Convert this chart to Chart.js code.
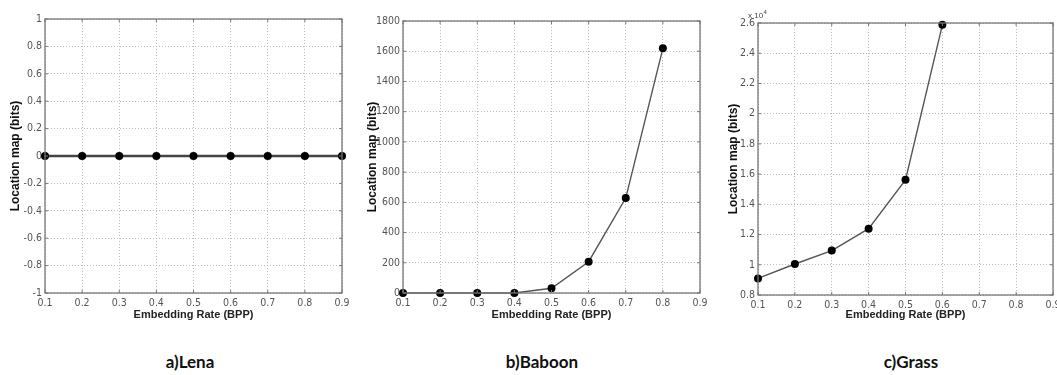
<!DOCTYPE html>
<html>
<head>
<meta charset="utf-8">
<script src="https://cdn.jsdelivr.net/npm/chart.js@4/dist/chart.umd.min.js"></script>
<style>
  html, body { margin: 0; padding: 0; background: #fff; }
  body { width: 1057px; height: 375px; position: relative; overflow: hidden; }
  .panel { position: absolute; top: 0; }
  .cap { position: absolute; top: 351px; font-family: Lato, "Open Sans", sans-serif; font-weight: bold; font-size: 17px; color: #111; transform: translateX(-50%); white-space: nowrap; }
</style>
</head>
<body>
<div class="panel" style="left:0px;width:350px;height:330px"><canvas id="c1"></canvas></div>
<div class="panel" style="left:360px;width:350px;height:330px"><canvas id="c2"></canvas></div>
<div class="panel" style="left:710px;width:347px;height:330px"><canvas id="c3"></canvas></div>
<div class="cap" style="left:190px">a)Lena</div>
<div class="cap" style="left:542px">b)Baboon</div>
<div class="cap" style="left:911px">c)Grass</div>
<script>
// ---- data ----
const rates = ['0.1','0.2','0.3','0.4','0.5','0.6','0.7','0.8','0.9'];
const lenaBits = [0, 0, 0, 0, 0, 0, 0, 0, 0];
const baboonBits = [0, 0, 0, 0, 31, 207, 628, 1619];
const grassBits = [9100, 10050, 10940, 12390, 15620, 25880];
const lenaTicks = { min: -1, max: 1, step: 0.2 };
const baboonTicks = { min: 0, max: 1800, step: 200 };
const grassTicks = { min: 8000, max: 26000, step: 2000, scale: 10000 };
const xTitle = 'Embedding Rate (BPP)';
const yTitle = 'Location map (bits)';

const tickFont = { family: '"Liberation Sans Narrow", "DejaVu Sans Condensed", Arial, sans-serif', size: 10.5 };
const tickColor = '#555';

const boxPlugin = {
  id: 'box',
  afterDatasetsDraw(chart) {
    const a = chart.chartArea, ctx = chart.ctx;
    ctx.save();
    ctx.strokeStyle = '#777';
    ctx.lineWidth = 1.3;
    ctx.setLineDash([]);
    ctx.strokeRect(a.left, a.top, a.right - a.left, a.bottom - a.top);
    // inward tick marks
    ctx.lineWidth = 1;
    const xs = chart.scales.x, ys = chart.scales.y;
    xs.ticks.forEach((t, i) => {
      const px = xs.getPixelForTick(i);
      ctx.beginPath(); ctx.moveTo(px, a.bottom); ctx.lineTo(px, a.bottom - 3);
      ctx.moveTo(px, a.top); ctx.lineTo(px, a.top + 3); ctx.stroke();
    });
    ys.ticks.forEach((t, i) => {
      const py = ys.getPixelForTick(i);
      ctx.beginPath(); ctx.moveTo(a.left, py); ctx.lineTo(a.left + 3, py);
      ctx.moveTo(a.right, py); ctx.lineTo(a.right - 3, py); ctx.stroke();
    });
    const ex = chart.options.plugins.box && chart.options.plugins.box.exponent;
    if (ex) {
      ctx.fillStyle = '#444';
      ctx.font = '8px "Liberation Sans Narrow", Arial, sans-serif';
      ctx.textBaseline = 'alphabetic';
      ctx.fillText('x 10', a.left - 10, a.top - 5);
      const w = ctx.measureText('x 10').width;
      ctx.font = '6px "Liberation Sans Narrow", Arial, sans-serif';
      ctx.fillText(ex, a.left - 10 + w + 0.5, a.top - 9);
    }
    ctx.restore();
  }
};

function fmt(v, div) {
  const n = Math.round((v / (div || 1)) * 10) / 10;
  return (Object.is(n, -0) ? 0 : n).toString();
}

function makeChart(id, data, yt, opts) {
  const ctx = document.getElementById(id);
  return new Chart(ctx, {
    type: 'line',
    data: {
      labels: rates,
      datasets: [{
        data: data,
        borderColor: opts.lineColor || '#555',
        borderWidth: opts.lineWidth || 1.4,
        pointBackgroundColor: '#000',
        pointBorderColor: '#000',
        pointRadius: 4,
        pointBorderWidth: 0,
        tension: 0,
        clip: false
      }]
    },
    options: {
      responsive: true,
      maintainAspectRatio: false,
      animation: false,
      layout: { padding: { top: opts.top, right: opts.right, bottom: 0, left: 0 } },
      plugins: { legend: { display: false }, tooltip: { enabled: false }, box: { exponent: opts.exponent } },
      scales: {
        x: {
          type: 'category',
          offset: false,
          grid: { color: '#bbb', lineWidth: 1, drawTicks: false, tickLength: 0 },
          border: { display: false, dash: [1, 2] },
          ticks: { font: tickFont, color: tickColor, padding: 4, autoSkip: false, maxRotation: 0 },
          title: { display: true, text: xTitle, color: '#222', font: { family: '"Liberation Sans", Arial, sans-serif', size: 11, weight: 'bold' }, padding: { top: 0, bottom: 8 } },
          afterFit(s) { s.height = opts.xh; s.paddingLeft = 0; s.paddingRight = 0; }
        },
        y: {
          min: yt.min, max: yt.max,
          grid: { color: '#bbb', lineWidth: 1, drawTicks: false, tickLength: 0 },
          border: { display: false, dash: [1, 2] },
          ticks: { stepSize: yt.step, font: tickFont, color: tickColor, padding: 3, callback: (v) => fmt(v, yt.scale) },
          title: { display: true, text: yTitle, color: '#111', font: { family: '"Liberation Sans", Arial, sans-serif', size: 12, weight: 'bold' }, padding: { top: opts.ytp, bottom: 0 } },
          afterFit(s) { s.width = opts.yw; s.paddingTop = 0; s.paddingBottom = 0; }
        }
      }
    },
    plugins: [boxPlugin]
  });
}

makeChart('c1', lenaBits, lenaTicks, { top: 19, right: 8, yw: 45, xh: 37, ytp: 8, lineWidth: 2.5, lineColor: '#444' });
makeChart('c2', baboonBits, baboonTicks, { top: 21, right: 10, yw: 43, xh: 37, ytp: 5 });
makeChart('c3', grassBits, grassTicks, { top: 23, right: 4, yw: 48, xh: 35, ytp: 16, exponent: '4' });
</script>
</body>
</html>
